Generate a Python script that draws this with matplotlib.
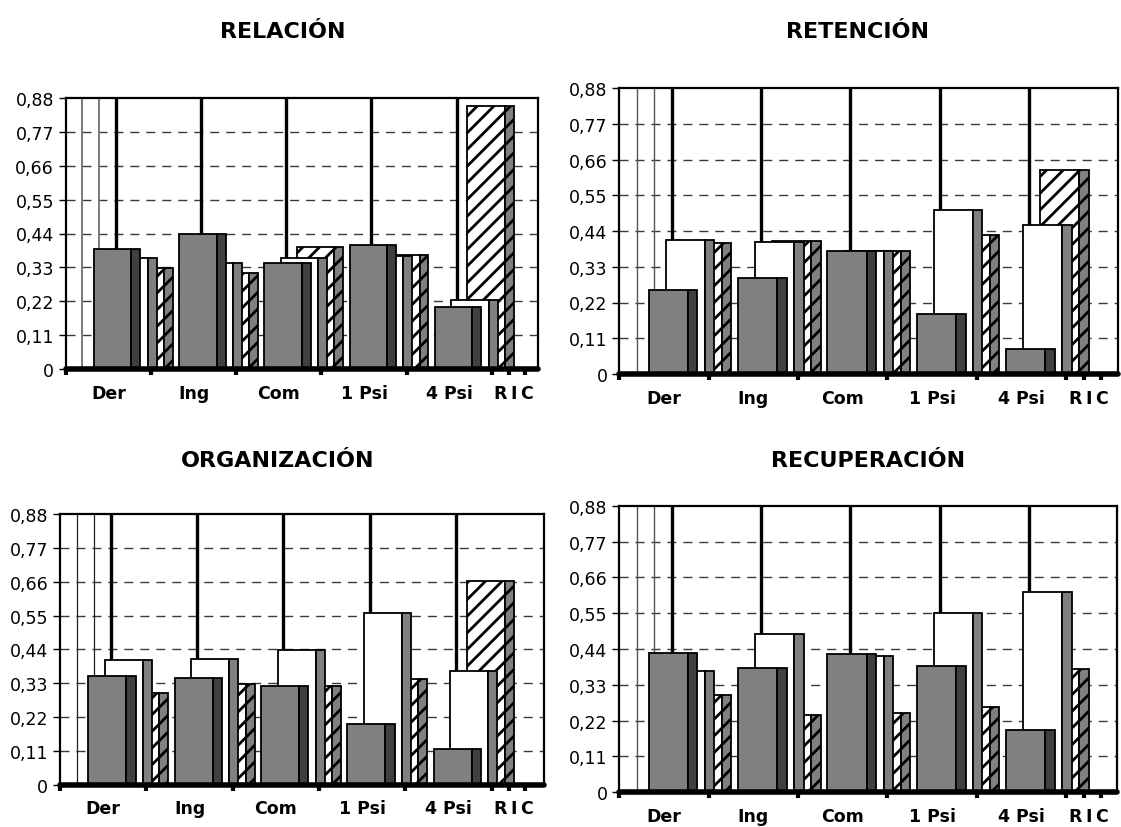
import matplotlib
matplotlib.use("Agg")
import matplotlib.pyplot as plt
import numpy as np

# ---- data -------------------------------------------------------------
categories = ["Der", "Ing", "Com", "1 Psi", "4 Psi"]
depth_labels = ["R", "I", "C"]
y_ticks = [0, 0.11, 0.22, 0.33, 0.44, 0.55, 0.66, 0.77, 0.88]
y_tick_labels = ["0", "0,11", "0,22", "0,33", "0,44", "0,55", "0,66", "0,77", "0,88"]

relacion_gray = [0.390, 0.440, 0.345, 0.403, 0.200]
relacion_white = [0.361, 0.344, 0.360, 0.368, 0.225]
relacion_hatch = [0.327, 0.312, 0.395, 0.370, 0.855]

retencion_gray = [0.260, 0.295, 0.377, 0.184, 0.077]
retencion_white = [0.413, 0.405, 0.380, 0.505, 0.460]
retencion_hatch = [0.403, 0.409, 0.380, 0.428, 0.629]

organizacion_gray = [0.353, 0.347, 0.320, 0.197, 0.117]
organizacion_white = [0.405, 0.408, 0.437, 0.559, 0.370]
organizacion_hatch = [0.297, 0.326, 0.320, 0.343, 0.663]

recuperacion_gray = [0.427, 0.383, 0.424, 0.389, 0.192]
recuperacion_white = [0.373, 0.487, 0.420, 0.550, 0.614]
recuperacion_hatch = [0.298, 0.237, 0.243, 0.262, 0.378]

# ---- style --------------------------------------------------------------
plt.rcParams["font.family"] = ["DejaVu Sans"]
plt.rcParams["hatch.linewidth"] = 2.0

W, H = 1121, 828
fig = plt.figure(figsize=(W / 100, H / 100), dpi=100)

FACE_W = 0.44
SIDE_W = 0.105
SERIES_OFFSETS = [0.33, 0.52, 0.71]          # gray (front), white, hatched (back)
DEPTH_TICKS = [5.2, 5.39]
DEPTH_LABEL_X = [5.10, 5.255, 5.40]


def px_axes(x0, y0, x1, y1):
    """Axes from pixel box (left, top, right, bottom)."""
    return fig.add_axes([x0 / W, 1 - y1 / H, (x1 - x0) / W, (y1 - y0) / H])


def draw_panel(ax, title, title_xy, gray, white, hatch, xmax, thin_color, thin_lw):
    x = np.arange(len(categories))

    # dashed horizontal grid
    for yv in y_ticks[1:-1]:
        ax.axhline(yv, color="#3a3a3a", lw=1.0, ls=(0, (6.5, 5)), zorder=0.5)

    # thin depth lines at the left, thick drop lines per category
    ax.vlines([0.195, 0.39], 0, 0.88, color=thin_color, lw=thin_lw, zorder=0.8)
    ax.vlines(x + 0.585, 0, 0.88, color="black", lw=2.4, zorder=1)

    series = [
        (hatch, SERIES_OFFSETS[2], "white", "#808080", "//", 2),
        (white, SERIES_OFFSETS[1], "white", "#808080", None, 3),
        (gray, SERIES_OFFSETS[0], "#808080", "#404040", None, 4),
    ]
    for vals, off, face_c, side_c, hp, z in series:
        ax.bar(x + off, vals, width=FACE_W, align="edge", color=face_c,
               edgecolor="black", linewidth=1.3, hatch=hp, zorder=z)
        ax.bar(x + off + FACE_W, vals, width=SIDE_W, align="edge", color=side_c,
               edgecolor="black", linewidth=1.3, hatch=hp, zorder=z)

    ax.set_xlim(0, xmax)
    ax.set_ylim(0, 0.88)
    ax.set_yticks(y_ticks, y_tick_labels)
    ax.tick_params(axis="y", direction="out", length=5, width=1, pad=3.5,
                   labelsize=12.5)
    ax.set_xticks(list(range(len(categories) + 1)) + DEPTH_TICKS)
    ax.set_xticklabels([])
    ax.tick_params(axis="x", direction="out", length=4, width=3)

    for side in ("left", "top", "right"):
        ax.spines[side].set_linewidth(1.6)
        ax.spines[side].set_zorder(10)
    ax.spines["bottom"].set_linewidth(4)
    ax.spines["bottom"].set_zorder(10)
    ax.spines["bottom"].set_capstyle("round")

    xt = ax.get_xaxis_transform()
    for i, lab in enumerate(categories):
        ax.annotate(lab, xy=(i + 0.5, 0), xycoords=xt, xytext=(0, -10.5),
                    textcoords="offset points", ha="center", va="top",
                    fontsize=12.5, fontweight="bold")
    for xp, lab in zip(DEPTH_LABEL_X, depth_labels):
        ax.annotate(lab, xy=(xp, 0), xycoords=xt, xytext=(0, -10.5),
                    textcoords="offset points", ha="center", va="top",
                    fontsize=12.5, fontweight="bold")

    fig.text(title_xy[0] / W, 1 - title_xy[1] / H, title, ha="center",
             va="baseline", fontsize=16, fontweight="bold")


ax1 = px_axes(65.7, 99, 538.3, 370)
draw_panel(ax1, "RELACIÓN", (282.5, 38.3), relacion_gray, relacion_white,
           relacion_hatch, 5.543, "#7a7a7a", 1.4)

ax2 = px_axes(619.3, 89, 1118.3, 375)
draw_panel(ax2, "RETENCIÓN", (857, 38.3), retencion_gray, retencion_white,
           retencion_hatch, 5.585, "#555555", 1.0)

ax3 = px_axes(60, 515, 544, 785.7)
draw_panel(ax3, "ORGANIZACIÓN", (277.5, 466.7), organizacion_gray,
           organizacion_white, organizacion_hatch, 5.606, "#222222", 0.9)

ax4 = px_axes(619.3, 506.7, 1117.3, 793.3)
draw_panel(ax4, "RECUPERACIÓN", (868, 466.7), recuperacion_gray,
           recuperacion_white, recuperacion_hatch, 5.574, "#555555", 1.0)

fig.savefig("out.png", dpi=100, facecolor="white")
